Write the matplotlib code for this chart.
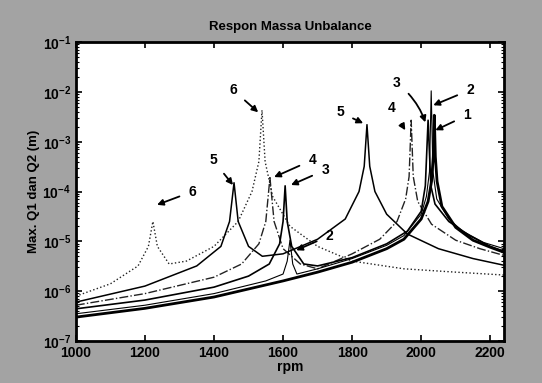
import matplotlib
matplotlib.use('Agg')
import matplotlib.pyplot as plt

# data (rpm, amplitude in m)
rpm1 = [1000, 1200, 1400, 1600, 1700, 1800, 1900, 1950, 2000, 2020, 2030, 2035, 2038,
        2041, 2046, 2060, 2100, 2150, 2200, 2240]
amp1 = [3.0e-7, 4.5e-7, 7.6e-7, 1.6e-6, 2.4e-6, 3.8e-6, 7.1e-6, 1.1e-5, 2.8e-5, 6.3e-5,
        1.6e-4, 5.0e-4, 3.4e-3, 5.0e-4, 1.6e-4, 5.0e-5, 1.9e-5, 1.05e-5, 7.6e-6, 6.0e-6]

rpm2 = [1000, 1200, 1400, 1550, 1600, 1612, 1620, 1628, 1640, 1700, 1800, 1900, 1950,
        2000, 2015, 2024, 2029, 2034, 2045, 2080, 2120, 2180, 2240]
amp2 = [3.5e-7, 5.2e-7, 8.9e-7, 1.6e-6, 2.2e-6, 4.0e-6, 1.05e-5, 3.5e-6, 2.2e-6, 2.8e-6,
        4.5e-6, 8.3e-6, 1.3e-5, 3.5e-5, 7.9e-5, 2.5e-4, 1.05e-2, 2.5e-4, 7.1e-5, 2.8e-5,
        1.6e-5, 9.5e-6, 7.1e-6]

rpm3 = [1000, 1200, 1400, 1500, 1560, 1590, 1600, 1606, 1612, 1625, 1660, 1700, 1800,
        1900, 1960, 2000, 2012, 2020, 2028, 2040, 2080, 2140, 2200, 2240]
amp3 = [4.4e-7, 6.6e-7, 1.2e-6, 2.0e-6, 3.5e-6, 8.9e-6, 2.5e-5, 1.3e-4, 2.5e-5, 7.9e-6,
        3.5e-6, 3.2e-6, 4.7e-6, 8.9e-6, 1.6e-5, 4.0e-5, 1.3e-4, 2.7e-3, 1.3e-4, 5.6e-5,
        2.5e-5, 1.3e-5, 7.9e-6, 6.3e-6]

rpm4 = [1000, 1200, 1400, 1480, 1530, 1550, 1562, 1574, 1600, 1650, 1700, 1800, 1880,
        1930, 1955, 1965, 1971, 1977, 1990, 2030, 2100, 2170, 2240]
amp4 = [5.2e-7, 8.9e-7, 1.9e-6, 3.5e-6, 8.9e-6, 2.5e-5, 1.9e-4, 2.5e-5, 7.1e-6, 3.5e-6,
        2.8e-6, 5.6e-6, 1.1e-5, 2.5e-5, 7.1e-5, 2.0e-4, 2.7e-3, 2.0e-4, 6.3e-5, 2.2e-5,
        1.05e-5, 7.1e-6, 5.2e-6]

rpm5 = [1000, 1200, 1350, 1420, 1445, 1458, 1470, 1500, 1540, 1600, 1700, 1780, 1820,
        1835, 1843, 1851, 1866, 1900, 1960, 2050, 2150, 2240]
amp5 = [6.0e-7, 1.26e-6, 3.2e-6, 7.9e-6, 2.5e-5, 1.5e-4, 2.5e-5, 7.9e-6, 5.0e-6, 5.6e-6,
        1.1e-5, 2.8e-5, 1.0e-4, 3.2e-4, 2.2e-3, 3.2e-4, 1.0e-4, 3.5e-5, 1.4e-5, 7.1e-6,
        4.5e-6, 3.3e-6]

rpm6 = [1000, 1100, 1180, 1210, 1223, 1236, 1270, 1320, 1400, 1470, 1510, 1530, 1539,
        1548, 1570, 1620, 1700, 1800, 1950, 2100, 2240]
amp6 = [7.9e-7, 1.4e-6, 3.2e-6, 7.9e-6, 2.5e-5, 7.9e-6, 3.5e-6, 4.0e-6, 7.9e-6, 2.5e-5,
        1.0e-4, 4.0e-4, 4.3e-3, 4.0e-4, 7.9e-5, 2.0e-5, 7.9e-6, 4.0e-6, 2.8e-6, 2.4e-6,
        2.1e-6]

# arrow labels: (text, label rpm, label amp, tip rpm, tip amp)
labels = [
    ('6', 1455, 1.1e-2, 1528, 3.9e-3),
    ('5', 1397, 4.3e-4, 1455, 1.35e-4),
    ('6', 1338, 1.0e-4, 1235, 5.4e-5),
    ('4', 1685, 4.3e-4, 1574, 1.95e-4),
    ('3', 1722, 2.7e-4, 1623, 1.35e-4),
    ('2', 1735, 1.3e-5, 1638, 6.6e-6),
    ('5', 1765, 3.9e-3, 1832, 2.35e-3),
    ('4', 1915, 4.7e-3, 1954, 1.7e-3),
    ('3', 1930, 1.5e-2, 2012, 2.45e-3),
    ('2', 2142, 1.1e-2, 2035, 5.4e-3),
    ('1', 2133, 3.4e-3, 2041, 1.7e-3),
]

fig = plt.figure(figsize=(5.42, 3.83), dpi=100, facecolor='#a3a3a3')
ax = fig.add_axes([0.140, 0.110, 0.790, 0.780])

ax.semilogy(rpm6, amp6, color='#222222', lw=1.0, ls=':')
ax.semilogy(rpm5, amp5, color='black', lw=1.1, ls='-')
ax.semilogy(rpm4, amp4, color='#222222', lw=1.0, ls='-.')
ax.semilogy(rpm3, amp3, color='black', lw=1.2, ls='-')
ax.semilogy(rpm2, amp2, color='black', lw=0.8, ls='-')
ax.semilogy(rpm1, amp1, color='black', lw=2.0, ls='-')

for txt, lx, ly, tx, ty in labels:
    rad = -0.15 if (txt == '3' and lx > 1900) else 0.0
    ax.annotate(txt, xy=(tx, ty), xytext=(lx, ly), ha='center', va='center',
                fontsize=10, fontweight='bold', family='Liberation Sans',
                arrowprops=dict(arrowstyle='-|>', color='black', lw=1.3,
                                mutation_scale=9, shrinkA=5, shrinkB=0,
                                connectionstyle='arc3,rad=%.2f' % rad))

ax.set_xlim(1000, 2240)
ax.set_ylim(1e-7, 1e-1)
ax.set_xticks([1000, 1200, 1400, 1600, 1800, 2000, 2200])
ax.tick_params(which='both', direction='in', top=True, right=True)
ax.tick_params(which='major', length=4, width=1.2, labelsize=10)
ax.tick_params(which='minor', length=2, width=0.8)
for lab in ax.get_xticklabels() + ax.get_yticklabels():
    lab.set_fontweight('bold')
    lab.set_family('Liberation Sans')
for s in ax.spines.values():
    s.set_linewidth(2.0)

ax.set_title('Respon Massa Unbalance', fontsize=9.5, fontweight='bold',
             family='Liberation Sans', pad=9)
ax.set_xlabel('rpm', fontsize=10, fontweight='bold', family='Liberation Sans', labelpad=0)
ax.set_ylabel('Max. Q1 dan Q2 (m)', fontsize=9.5, fontweight='bold',
              family='Liberation Sans', labelpad=2)

fig.savefig('out.png', dpi=100, facecolor=fig.get_facecolor())
